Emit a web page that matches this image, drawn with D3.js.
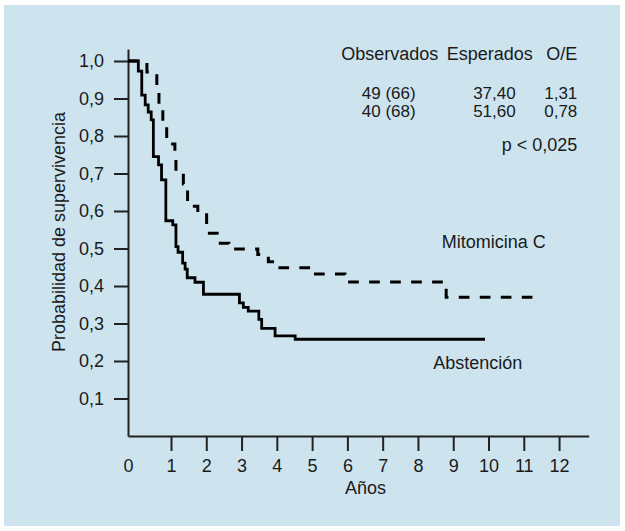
<!DOCTYPE html>
<html>
<head>
<meta charset="utf-8">
<script src="https://cdn.jsdelivr.net/npm/d3@7"></script>
<style>
  body { margin: 0; background: #fff; }
  text { font-family: "Liberation Sans", Arial, sans-serif; fill: #1a1a1a; }
</style>
</head>
<body>
<div id="chart"></div>
<script>
// Kaplan-Meier curves (years, survival probability)
const abstencionTime = [0, 0.24, 0.32, 0.40, 0.47, 0.54, 0.59, 0.71, 0.78, 0.88, 1.05, 1.14, 1.20, 1.33, 1.40, 1.46, 1.68, 1.92, 2.94, 3.05, 3.19, 3.49, 3.57, 3.95, 4.52, 9.90];
const abstencionSurv = [1.0, 0.973, 0.909, 0.883, 0.864, 0.843, 0.745, 0.723, 0.683, 0.574, 0.563, 0.505, 0.49, 0.461, 0.445, 0.422, 0.41, 0.378, 0.355, 0.343, 0.333, 0.311, 0.287, 0.267, 0.258, 0.258];

const mitomicinaTime = [0, 0.44, 0.67, 0.72, 0.81, 0.90, 1.11, 1.14, 1.35, 1.47, 1.76, 2.01, 2.31, 2.64, 3.46, 3.76, 3.93, 4.97, 5.93, 8.80, 11.34];
const mitomicinaSurv = [1.0, 0.971, 0.928, 0.877, 0.829, 0.779, 0.736, 0.707, 0.672, 0.613, 0.595, 0.541, 0.514, 0.499, 0.484, 0.465, 0.449, 0.432, 0.411, 0.370, 0.370];

const xTicks = [0, 1, 2, 3, 4, 5, 6, 7, 8, 9, 10, 11, 12];
const yTicks = [0.1, 0.2, 0.3, 0.4, 0.5, 0.6, 0.7, 0.8, 0.9, 1.0];

const tableHeader = ["Observados", "Esperados", "O/E"];
const tableObservados = ["49 (66)", "40 (68)"];
const tableEsperados = ["37,40", "51,60"];
const tableOE = ["1,31", "0,78"];
const pValue = "p < 0,025";

const width = 625, height = 531;
const svg = d3.select("#chart").append("svg")
    .attr("width", width)
    .attr("height", height);

svg.append("rect")
    .attr("x", 4).attr("y", 5)
    .attr("width", width - 9).attr("height", height - 10)
    .attr("fill", "#cde4ef");

// the printed axis is a bit wider between 0 and 1 than elsewhere
const x = d3.scaleLinear()
    .domain([0, 1, 12.84])
    .range([128, 171, 588.7]);
const y = d3.scaleLinear()
    .domain([0, 1.032])
    .range([436, 49]);

const locale = d3.formatLocale({ decimal: ",", thousands: ".", grouping: [3], currency: ["", "€"] });
const fmt = locale.format(".1f");

const xAxisGroup = svg.append("g")
    .attr("transform", `translate(0,${y(0)})`)
    .call(d3.axisBottom(x).tickValues(xTicks).tickSize(15).tickSizeOuter(0).tickPadding(8));
xAxisGroup.selectAll(".tick").filter(d => d === 0).select("line").remove();

const yAxisGroup = svg.append("g")
    .attr("transform", `translate(${x(0)},0)`)
    .call(d3.axisLeft(y).tickValues(yTicks).tickFormat(fmt).tickSize(14).tickSizeOuter(0).tickPadding(10));

svg.selectAll(".domain, .tick line")
    .attr("stroke", "#222")
    .attr("stroke-width", 2);
svg.selectAll(".tick text")
    .style("font-family", "'Liberation Sans', Arial, sans-serif")
    .style("font-size", "18px")
    .attr("fill", "#1a1a1a");

// axis titles
svg.append("text")
    .attr("x", 365.5).attr("y", 494)
    .attr("text-anchor", "middle")
    .style("font-size", "18px")
    .text("Años");
svg.append("text")
    .attr("transform", "translate(64.5,232) rotate(-90)")
    .attr("text-anchor", "middle")
    .style("font-size", "18px")
    .text("Probabilidad de supervivencia");

// curves
const line = d3.line()
    .x(d => x(d[0]))
    .y(d => y(d[1]))
    .curve(d3.curveStepAfter);

svg.append("path")
    .datum(d3.zip(abstencionTime, abstencionSurv))
    .attr("d", line)
    .attr("fill", "none")
    .attr("stroke", "#000")
    .attr("stroke-width", 2.8);

svg.append("path")
    .datum(d3.zip(mitomicinaTime, mitomicinaSurv))
    .attr("d", line)
    .attr("fill", "none")
    .attr("stroke", "#000")
    .attr("stroke-width", 3)
    .attr("stroke-dasharray", "10.7,10.3");

// curve labels
svg.append("text")
    .attr("x", 441.7).attr("y", 247.5)
    .style("font-size", "18px")
    .text("Mitomicina C");
svg.append("text")
    .attr("x", 433.2).attr("y", 369)
    .style("font-size", "18px")
    .text("Abstención");

// table of observed / expected
const headerRight = [438.3, 532.7, 577.3];
svg.selectAll(".hdr")
    .data(tableHeader)
    .enter().append("text")
    .attr("class", "hdr")
    .attr("x", (d, i) => headerRight[i])
    .attr("y", 60)
    .attr("text-anchor", "end")
    .style("font-size", "18px")
    .text(d => d);

const cols = [
    { values: tableObservados, right: 415.7 },
    { values: tableEsperados, right: 515.7 },
    { values: tableOE, right: 577.3 }
];
cols.forEach(c => {
    svg.selectAll(null)
        .data(c.values)
        .enter().append("text")
        .attr("x", c.right)
        .attr("y", (d, i) => 99 + i * 18)
        .attr("text-anchor", "end")
        .style("font-size", "17px")
        .text(d => d);
});

svg.append("text")
    .attr("x", 577.3).attr("y", 151)
    .attr("text-anchor", "end")
    .style("font-size", "18px")
    .text(pValue);
</script>
</body>
</html>
